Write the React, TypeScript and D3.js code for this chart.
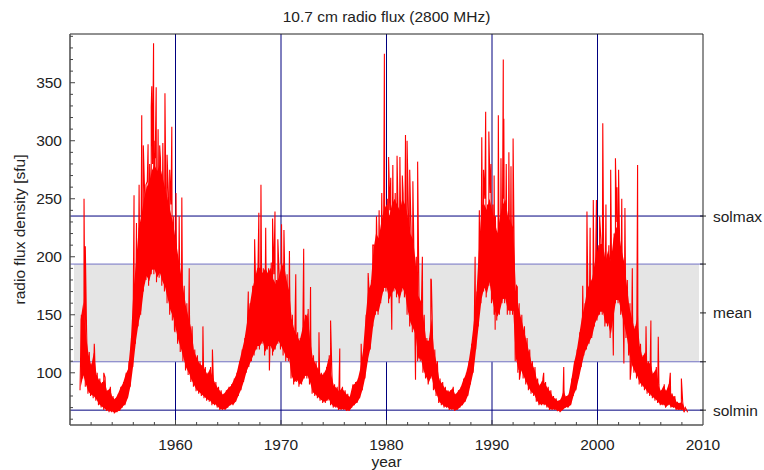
import React from "react";
import * as d3 from "d3";

// ---- data ----
const dataStart = 1950.95; // first quarter of the record
// quarterly lower / upper envelope of the daily flux, 1951..2008
const fluxLow = [
  85, 95, 88, 82, 80, 78, 76, 72, 70, 68, 67, 66, 66, 65, 66, 67,
  70, 72, 78, 88, 105, 125, 140, 150, 170, 180, 175, 185, 185, 178, 182, 175,
  170, 160, 150, 145, 135, 125, 118, 110, 102, 98, 92, 88, 84, 82, 80, 78,
  76, 75, 72, 72, 70, 68, 68, 68, 70, 72, 72, 75, 80, 85, 92, 100,
  105, 110, 115, 120, 120, 125, 115, 120, 120, 115, 120, 125, 120, 115, 110, 110,
  95, 90, 92, 88, 90, 95, 95, 90, 82, 80, 78, 76, 74, 74, 76, 72,
  70, 70, 68, 68, 68, 67, 67, 70, 72, 74, 78, 85, 95, 110, 120, 140,
  150, 150, 160, 170, 170, 160, 165, 170, 165, 160, 170, 165, 150, 140, 135, 130,
  110, 110, 100, 95, 90, 95, 85, 80, 74, 72, 70, 70, 68, 68, 67, 68,
  70, 72, 75, 80, 90, 100, 120, 140, 160, 170, 165, 175, 160, 150, 145, 150,
  160, 160, 150, 150, 150, 110, 100, 100, 95, 90, 85, 82, 80, 75, 72, 72,
  72, 70, 68, 68, 68, 67, 66, 68, 70, 70, 72, 80, 85, 95, 105, 115,
  120, 125, 130, 140, 145, 150, 150, 140, 140, 130, 145, 160, 160, 150, 140, 130,
  115, 105, 100, 95, 90, 88, 85, 82, 80, 78, 76, 74, 72, 72, 70, 72,
  70, 70, 68, 68, 68, 66,
];
const fluxHigh = [
  150, 165, 135, 118, 108, 120, 100, 95, 92, 96, 85, 88, 80, 78, 82, 88,
  92, 100, 105, 130, 175, 200, 230, 240, 255, 265, 270, 280, 285, 280, 285, 275,
  265, 255, 245, 235, 220, 205, 190, 175, 160, 150, 140, 120, 115, 110, 108, 105,
  100, 105, 98, 92, 88, 85, 82, 85, 88, 90, 95, 100, 110, 120, 130, 145,
  160, 175, 185, 195, 195, 190, 195, 190, 195, 185, 180, 185, 195, 200, 185, 175,
  150, 140, 135, 130, 140, 150, 155, 130, 115, 110, 105, 100, 100, 105, 115, 100,
  90, 88, 85, 88, 85, 82, 80, 90, 92, 95, 105, 120, 150, 175, 180, 210,
  225, 220, 235, 245, 250, 240, 250, 255, 250, 245, 255, 250, 240, 225, 220, 200,
  170, 165, 150, 130, 130, 150, 120, 110, 95, 92, 88, 85, 85, 88, 82, 85,
  88, 95, 100, 110, 125, 145, 170, 210, 250, 250, 245, 255, 245, 235, 225, 240,
  250, 255, 240, 235, 230, 175, 160, 150, 140, 130, 120, 110, 105, 95, 90, 95,
  92, 88, 85, 80, 78, 76, 78, 85, 80, 82, 95, 110, 120, 135, 150, 160,
  175, 180, 185, 200, 210, 215, 215, 200, 210, 200, 220, 230, 225, 210, 200, 180,
  160, 150, 140, 150, 125, 115, 120, 110, 110, 100, 105, 90, 85, 90, 85, 92,
  82, 80, 75, 74, 75, 70,
];
// isolated flare spikes: year, value
const spikeYears = [
  1951.33, 1951.45, 1952.3, 1953.2, 1955.6, 1956.07, 1956.3, 1956.55, 1956.8, 1956.95,
  1957.2, 1957.4, 1957.55, 1957.7, 1957.75, 1957.92, 1958.05, 1958.17, 1958.35, 1958.5,
  1958.8, 1959.0, 1959.2, 1959.45, 1959.65, 1960.05, 1960.35, 1960.6, 1961.3, 1962.6,
  1963.5, 1966.9, 1967.5, 1967.9, 1968.1, 1968.55, 1969.2, 1969.43, 1969.7, 1970.05,
  1970.28, 1970.8, 1971.4, 1972.15, 1972.8, 1973.6, 1974.7, 1975.57, 1977.6, 1978.26,
  1978.7, 1979.05, 1979.3, 1979.55, 1979.8, 1980.2, 1980.4, 1980.6, 1981.0, 1981.27,
  1981.5, 1981.8, 1981.95, 1982.2, 1982.5, 1982.95, 1983.4, 1984.2, 1984.25, 1988.4,
  1988.8, 1989.03, 1989.2, 1989.4, 1989.7, 1989.9, 1990.2, 1990.6, 1990.85, 1991.07,
  1991.12, 1991.35, 1991.6, 1991.8, 1992.0, 1992.4, 1994.9, 1996.8, 1998.6, 1999.0,
  1999.3, 1999.6, 1999.9, 2000.2, 2000.5, 2000.8, 2001.25, 2001.7, 2001.85, 2002.0,
  2002.3, 2002.6, 2003.3, 2003.8, 2004.6, 2005.06, 2005.76, 2006.9, 2007.95, 2008.55,
];
const spikeValues = [
  250, 209, 125, 100, 110, 253, 229, 262, 322, 296,
  262, 297, 280, 329, 347, 384, 300, 346, 310, 296,
  298, 341, 288, 275, 312, 255, 235, 251, 190, 140,
  120, 170, 215, 238, 262, 225, 233, 239, 215, 228,
  223, 205, 185, 207, 174, 135, 145, 121, 125, 186,
  210, 235, 240, 255, 375, 286, 268, 279, 287, 286,
  270, 305, 300, 275, 265, 282, 200, 181, 180, 200,
  240, 303, 275, 325, 308, 280, 270, 322, 285, 370,
  319, 280, 290, 278, 302, 174, 100, 105, 175, 239,
  225, 249, 249, 235, 315, 245, 275, 285, 260, 275,
  250, 242, 190, 279, 140, 145, 131, 100, 95, 66,
];
// short deep dips inside active phases: year, value
const dipYears = [1959.9, 1961.5, 1968.9, 1980.5, 1982.75, 1984.0, 1990.3, 1992.6, 2001.5, 2002.5, 2003.1];
const dipValues = [137, 100, 102, 137, 94, 94, 137, 94, 115, 108, 94];

const xTickYears = [1960, 1970, 1980, 1990, 2000, 2010];
const yTickValues = [100, 150, 200, 250, 300, 350];
const refLabels = ["solmax", "mean", "solmin"];
const refValues = [235.1, 151.6, 67.8];
const bandEdges = [109.5, 193.7];

const FONT = "'Liberation Sans', Arial, Helvetica, sans-serif";
const FS = 15.5;

export default function App() {
  const left = 70, right = 703, top = 34, bottom = 425;
  const x = d3.scaleLinear().domain([1950, 2010]).range([left, right]);
  const y = d3.scaleLinear().domain([55, 392]).range([bottom, top]);

  const pts: [number, number][] = [];
  fluxLow.forEach((lo, i) => {
    const t = dataStart + i * 0.25;
    pts.push([t, lo]);
    pts.push([t + 0.125, fluxHigh[i]]);
  });
  spikeYears.forEach((t, i) => pts.push([t, spikeValues[i]]));
  dipYears.forEach((t, i) => pts.push([t, dipValues[i]]));
  pts.sort((a, b) => a[0] - b[0]);
  const line = d3
    .line<[number, number]>()
    .x((d) => x(d[0]))
    .y((d) => y(d[1]));

  const env = fluxLow.map((lo, i) => ({ t: dataStart + i * 0.25 + 0.0625, lo, hi: fluxHigh[i] }));
  const area = d3
    .area<{ t: number; lo: number; hi: number }>()
    .x((d) => x(d.t))
    .y0((d) => y(d.lo + (d.hi - d.lo) * 0.04))
    .y1((d) => y(d.hi - (d.hi - d.lo) * 0.06));

  const minorY = d3.range(60, 391, 10);
  const minorX = d3.range(1952, 2010, 2);
  const gridYears = xTickYears.filter((v) => v < 2010);
  const navy = "#00007f";
  const light = "#7272c4";

  return (
    <svg
      width={764}
      height={470}
      style={{ position: "fixed", left: 0, top: 0, background: "#fff" }}
      fontFamily={FONT}
      fontSize={FS}
    >
      <rect x={0} y={0} width={764} height={470} fill="#fff" />
      {gridYears.map((v) => (
        <line key={"g" + v} x1={x(v)} x2={x(v)} y1={top} y2={bottom} stroke={navy} strokeWidth={1} />
      ))}
      <rect
        x={left + 4}
        width={right - left - 8}
        y={y(bandEdges[1])}
        height={y(bandEdges[0]) - y(bandEdges[1])}
        fill="#e5e5e5"
      />
      {bandEdges.map((v) => (
        <line key={"b" + v} x1={left} x2={right} y1={y(v)} y2={y(v)} stroke={light} strokeWidth={1} />
      ))}
      {[refValues[0], refValues[2]].map((v) => (
        <line key={"r" + v} x1={left} x2={right} y1={y(v)} y2={y(v)} stroke={navy} strokeWidth={1} />
      ))}
      {/* data */}
      <path d={area(env) || ""} fill="#ff0000" stroke="none" />
      <path d={line(pts) || ""} fill="none" stroke="#ff0000" strokeWidth={1.1} strokeLinejoin="miter" />
      {/* frame */}
      <line x1={left} x2={right} y1={top} y2={top} stroke="#222" strokeWidth={1} />
      <line x1={right} x2={right} y1={top} y2={bottom} stroke="#222" strokeWidth={1} />
      <line x1={left} x2={left} y1={top} y2={bottom} stroke="#555" strokeWidth={1.6} />
      <line x1={left} x2={right} y1={bottom} y2={bottom} stroke="#555" strokeWidth={1.6} />
      {minorY.map((v) => (
        <line
          key={"yt" + v}
          x1={left}
          x2={left + (v % 50 === 0 ? 5 : 3)}
          y1={y(v)}
          y2={y(v)}
          stroke="#444"
          strokeWidth={1}
        />
      ))}
      {yTickValues.map((v) => (
        <text key={"yl" + v} x={left - 8} y={y(v)} textAnchor="end" dominantBaseline="central" fill="#222">
          {v}
        </text>
      ))}
      {minorX.map((v) => (
        <line
          key={"xt" + v}
          x1={x(v)}
          x2={x(v)}
          y1={bottom}
          y2={bottom - (v % 10 === 0 ? 5 : 3)}
          stroke="#444"
          strokeWidth={1}
        />
      ))}
      {xTickYears.map((v) => (
        <text key={"xl" + v} x={x(v)} y={450} textAnchor="middle" fill="#222">
          {v}
        </text>
      ))}
      {[...refValues, ...bandEdges].map((v) => (
        <line key={"rt" + v} x1={right - 3} x2={right + 3} y1={y(v)} y2={y(v)} stroke="#222" strokeWidth={1} />
      ))}
      {refLabels.map((s, i) => (
        <text key={s} x={right + 10} y={y(refValues[i])} dominantBaseline="central" fill="#222">
          {s}
        </text>
      ))}
      <text x={(left + right) / 2} y={22} textAnchor="middle" fill="#222">
        10.7 cm radio flux (2800 MHz)
      </text>
      <text x={(left + right) / 2} y={467} textAnchor="middle" fill="#222">
        year
      </text>
      <text transform={`translate(25,${(top + bottom) / 2}) rotate(-90)`} textAnchor="middle" fill="#222">
        radio flux density [sfu]
      </text>
    </svg>
  );
}
